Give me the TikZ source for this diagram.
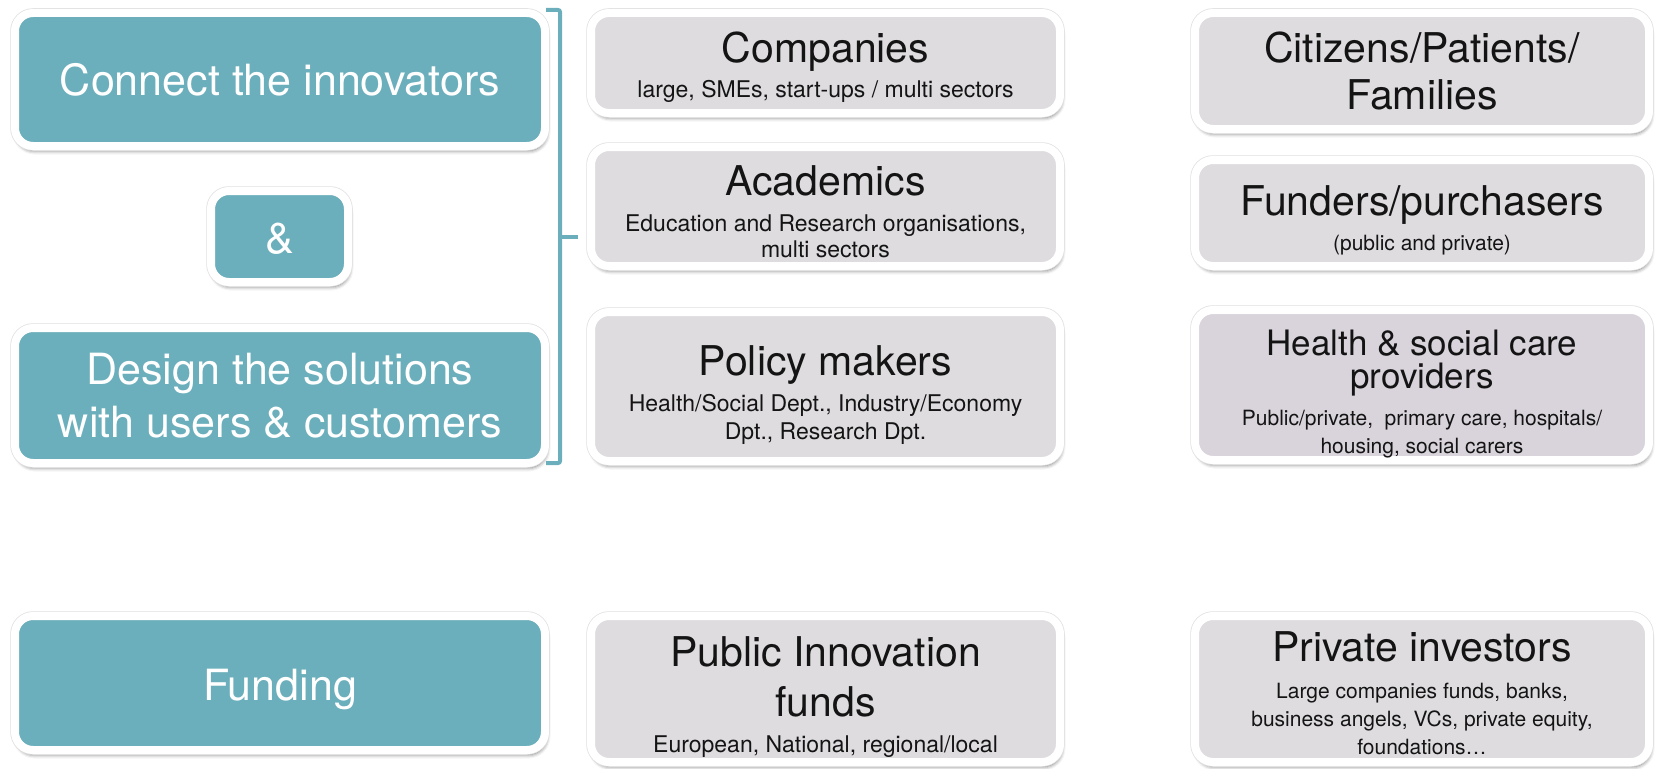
\documentclass[tikz,border=0pt]{standalone}
\usepackage{fontspec}
\setmainfont{TeX Gyre Heros}
\usetikzlibrary{shadows.blur}
\definecolor{tealc}{HTML}{6CAFBC}
\definecolor{greyc}{HTML}{DEDCDF}
\definecolor{healthc}{HTML}{D9D3DB}
\definecolor{inkc}{HTML}{141414}
\newcommand{\tightlines}{\baselineskip=0pt\lineskiplimit=-16000pt\lineskip=0pt\relax}
\newcommand{\tealfont}{\fontsize{43pt}{43pt}\selectfont\tightlines}
\newcommand{\greyfont}{\fontsize{41pt}{41pt}\selectfont\tightlines}
\newcommand{\healthfont}{\fontsize{35pt}{35pt}\selectfont\tightlines}
\newcommand{\subf}{\fontsize{23pt}{23pt}\selectfont}
\newcommand{\subh}{\fontsize{21pt}{21pt}\selectfont}
\newcommand{\topstrut}[1]{\rule{0pt}{#1}}
\tikzset{
  basebox/.style={rounded corners=18pt, draw=white, line width=8pt, inner sep=0pt, align=center,
    blur shadow={shadow xshift=1.5pt, shadow yshift=-4.5pt, shadow blur radius=4pt,
      shadow blur extra rounding=4pt, shadow opacity=60},
    preaction={draw=black!12, line width=9.5pt}},
  tealbox/.style={basebox, fill=tealc, text=white, font=\tealfont},
  greybox/.style={basebox, fill=greyc, text=inkc, font=\greyfont},
  bracketline/.style={draw=tealc, line width=4pt, rounded corners=2pt}
}
\begin{document}
\begin{tikzpicture}[x=1pt,y=-1pt]
\useasboundingbox (0,0) rectangle (1656,768);
% left column
\node[tealbox, minimum width=530pt, minimum height=133pt] (connect) at (280,79.5) {Connect the innovators};
\node[tealbox, minimum width=137pt, minimum height=91pt] (amp) at (279.5,236.5) {\topstrut{35pt}\&};
\node[tealbox, minimum width=530pt, minimum height=135pt] (design) at (280,395.5) {Design the solutions\\[53pt]with users \& customers};
\node[tealbox, minimum width=530pt, minimum height=134pt] (funding) at (280,683) {\topstrut{44pt}Funding};
% bracket
\coordinate (bt1) at (546,10);
\coordinate (bt2) at (560,10);
\coordinate (bb1) at (546,463);
\coordinate (bb2) at (560,463);
\coordinate (bm1) at (560,237);
\coordinate (bm2) at (578,237);
\draw[bracketline] (bt1) -- (bt2) -- (bb2) -- (bb1);
\draw[draw=tealc, line width=4pt] (bm1) -- (bm2);
% middle column
\node[greybox, minimum width=469pt, minimum height=100pt] (companies) at (825.5,63)
  {\topstrut{40pt}Companies\\[35pt]{\subf large, SMEs, start-ups / multi sectors}};
\node[greybox, minimum width=469pt, minimum height=119pt] (academics) at (825.5,206.5)
  {\topstrut{41pt}Academics\\[36pt]{\subf Education and Research organisations,}\\[26pt]{\subf multi sectors}};
\node[greybox, minimum width=469pt, minimum height=149pt] (policy) at (825.5,386.5)
  {\topstrut{47pt}Policy makers\\[36pt]{\subf Health/Social Dept., Industry/Economy}\\[28pt]{\subf Dpt., Research Dpt.}};
\node[greybox, minimum width=469pt, minimum height=146pt] (public) at (825.5,689)
  {\topstrut{45pt}Public Innovation\\[50pt]funds\\[36pt]{\subf European, National, regional/local}};
% right column
\node[greybox, minimum width=454pt, minimum height=116pt] (citizens) at (1422,71)
  {Citizens/Patients/\\[47pt]Families};
\node[greybox, minimum width=454pt, minimum height=106pt] (funders) at (1422,213)
  {\topstrut{44pt}Funders/purchasers\\[35pt]{\subh (public and private)}};
\node[greybox, fill=healthc, minimum width=454pt, minimum height=150pt, font=\healthfont] (health) at (1422,385)
  {\topstrut{44pt}Health \& social care\\[33pt]providers\\[37pt]{\subh Public/private,\ \ primary care, hospitals/}\\[28pt]{\subh housing, social carers}};
\node[greybox, minimum width=454pt, minimum height=146pt] (private) at (1422,689)
  {\topstrut{38pt}Private investors\\[37pt]{\subh Large companies funds, banks,}\\[28pt]{\subh business angels, VCs, private equity,}\\[28pt]{\subh foundations\dots}};
\end{tikzpicture}
\end{document}
